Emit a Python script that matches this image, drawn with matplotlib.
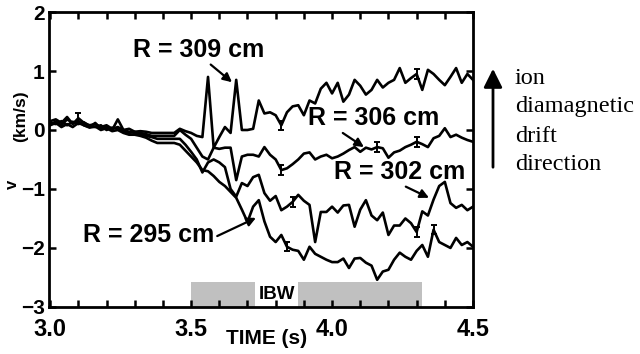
import numpy as np
import matplotlib
matplotlib.use("Agg")
import matplotlib.pyplot as plt

plt.rcParams['font.family'] = ['Liberation Sans', 'DejaVu Sans']
plt.rcParams['font.weight'] = 'bold'

# time base (s), sampled every 20 ms
time = np.linspace(3.0, 4.5, 76)

# toroidal velocity (km/s) at four radii
v_309 = [0.15, 0.18, 0.12, 0.22, 0.10, 0.20, 0.12, 0.08, 0.10, 0.05, 0.08, 0.02, 0.05,
         0.00, 0.02, -0.03, -0.02, -0.03, -0.05, -0.05, -0.05, -0.05, -0.05, 0.02, -0.02,
         -0.05, -0.10, -0.12, 0.90, -0.30, -0.12, 0.05, -0.05, 0.85, 0.00, 0.00, 0.02,
         0.50, 0.28, 0.30, 0.25, 0.08, 0.30, 0.40, 0.42, 0.25, 0.50, 0.45, 0.70, 0.80,
         0.62, 0.80, 0.48, 0.60, 0.85, 0.75, 0.60, 0.68, 0.85, 0.72, 0.80, 0.85, 1.05,
         0.80, 0.88, 0.95, 0.68, 1.02, 0.95, 0.85, 0.76, 0.90, 1.05, 0.80, 0.95, 0.85]
v_306 = [0.10, 0.14, 0.08, 0.18, 0.12, 0.15, 0.08, 0.05, 0.12, 0.02, 0.05, 0.00, 0.18,
         0.00, -0.03, -0.05, -0.05, -0.07, -0.10, -0.10, -0.10, -0.10, -0.10, 0.00, -0.08,
         -0.15, -0.30, -0.45, -0.50, -0.30, -0.32, -0.30, -0.30, -0.85, -0.45, -0.42, -0.42,
         -0.45, -0.29, -0.42, -0.50, -0.68, -0.65, -0.58, -0.50, -0.40, -0.38, -0.50, -0.45,
         -0.42, -0.48, -0.45, -0.40, -0.34, -0.29, -0.37, -0.30, -0.33, -0.29, -0.31, -0.47,
         -0.38, -0.35, -0.29, -0.25, -0.20, -0.24, -0.29, -0.14, -0.10, 0.03, -0.12, -0.08,
         -0.13, -0.17, -0.20]
v_302 = [0.12, 0.10, 0.15, 0.08, 0.14, 0.10, 0.13, 0.06, 0.05, 0.08, 0.00, 0.04, 0.02,
         -0.02, -0.05, -0.03, -0.08, -0.10, -0.12, -0.15, -0.15, -0.15, -0.15, -0.15, -0.25,
         -0.37, -0.50, -0.72, -0.55, -0.50, -0.55, -0.63, -1.00, -1.13, -0.90, -0.95, -0.80,
         -0.76, -1.07, -1.20, -1.12, -1.36, -1.30, -1.22, -1.10, -1.20, -1.27, -1.90, -1.39,
         -1.39, -1.30, -1.40, -1.28, -1.27, -1.64, -1.35, -1.19, -1.45, -1.53, -1.40, -1.78,
         -1.62, -1.62, -1.50, -1.58, -1.73, -1.38, -1.45, -1.18, -0.95, -0.88, -1.24, -1.32,
         -1.27, -1.36, -1.30]
v_295 = [0.08, 0.12, 0.05, 0.10, 0.05, 0.12, 0.08, 0.04, 0.06, 0.00, 0.03, -0.02, 0.00,
         -0.05, -0.08, -0.08, -0.10, -0.13, -0.18, -0.22, -0.22, -0.22, -0.22, -0.25, -0.35,
         -0.45, -0.55, -0.68, -0.70, -0.78, -0.88, -0.95, -1.05, -1.15, -1.35, -1.56, -1.30,
         -1.19, -1.55, -1.81, -1.90, -1.78, -1.98, -2.03, -2.05, -2.20, -1.98, -2.10, -2.15,
         -2.20, -2.24, -2.24, -2.18, -2.34, -2.18, -2.17, -2.25, -2.30, -2.54, -2.40, -2.37,
         -2.20, -2.08, -2.15, -2.20, -2.05, -1.95, -2.15, -1.69, -1.90, -1.95, -2.00, -1.83,
         -1.95, -1.90, -1.98]

# sample indices that carry an error bar
err_309 = [5, 41, 65]
err_306 = [41, 58, 65]
err_302 = [43, 65]
err_295 = [42, 68]
err_size = 0.08

ibw_start = 3.5
ibw_end = 4.32

fig = plt.figure(figsize=(6.4, 3.54), dpi=100)
ax = fig.add_axes([0.0766, 0.133, 0.6625, 0.833])

for v, idx in [(v_309, err_309), (v_306, err_306), (v_302, err_302), (v_295, err_295)]:
    ax.plot(time, v, color='black', lw=1.9, zorder=3)
    ax.errorbar(time[idx], np.array(v)[idx], yerr=err_size, fmt='none',
                ecolor='black', elinewidth=1.4, capsize=2.5, capthick=1.4, zorder=3)

# IBW heating window
ax.fill_between([ibw_start, ibw_end], -3, -2.58, color='#c0c0c0', lw=0, zorder=1)
ax.text(3.803, -2.79, 'IBW', ha='center', va='center', fontsize=13.5, zorder=1.5,
        bbox=dict(facecolor='white', edgecolor='none', pad=2.5))

ax.set_xlim(2.996, 4.5)
ax.set_ylim(-3, 2)
ax.set_xticks([3.0, 3.5, 4.0, 4.5])
ax.set_xticklabels(['3.0', '3.5', '4.0', '4.5'])
ax.set_xticks(np.arange(3.1, 4.5, 0.1), minor=True)
ax.set_yticks([-3, -2, -1, 0, 1, 2])
ax.tick_params(which='both', direction='in', top=True, right=True, width=1.8)
ax.tick_params(which='major', length=5, pad=3)
ax.tick_params(which='minor', length=5)
ax.tick_params(axis='x', pad=8, labelsize=17)
ax.tick_params(axis='y', labelsize=15)
for s in ax.spines.values():
    s.set_linewidth(2)

fig.text(0.416, 0.045, 'TIME (s)', ha='center', va='center', fontsize=15)
fig.text(0.019, 0.478, 'v', ha='center', va='center', fontsize=12, rotation=90)
fig.text(0.032, 0.672, '(km/s)', ha='center', va='center', fontsize=12.5, rotation=90)

arrow = dict(arrowstyle='-|>', color='black', lw=1.6, mutation_scale=13,
             shrinkA=0, shrinkB=0)
ax.annotate('R = 309 cm', xy=(3.645, 0.81), xytext=(3.525, 1.36), ha='center',
            va='center', fontsize=18, arrowprops=dict(arrow, relpos=(0.57, 0.0)))
ax.annotate('R = 306 cm', xy=(4.113, -0.29), xytext=(4.149, 0.20), ha='center',
            va='center', fontsize=18, arrowprops=dict(arrow, relpos=(0.23, 0.0)))
ax.annotate('R = 302 cm', xy=(4.344, -1.15), xytext=(4.241, -0.71), ha='center',
            va='center', fontsize=18, arrowprops=dict(arrow, relpos=(0.5, 0.0)))
ax.annotate('R = 295 cm', xy=(3.73, -1.49), xytext=(3.35, -1.78), ha='center',
            va='center', fontsize=18, arrowprops=dict(arrow, relpos=(1.0, 0.4)))

# direction indicator outside the axes
fig.patches.append(matplotlib.patches.FancyArrowPatch(
    (493 / 640, 1 - 170 / 354), (493 / 640, 1 - 66 / 354), transform=fig.transFigure,
    arrowstyle='-|>', mutation_scale=28, lw=2, color='black'))
for i, word in enumerate(['ion', 'diamagnetic', 'drift', 'direction']):
    fig.text(515 / 640, 1 - (78 + 29 * i) / 354, word, ha='left', va='center',
             fontsize=17.5, family='Liberation Serif', weight='normal')

fig.savefig('out.png', dpi=100)
